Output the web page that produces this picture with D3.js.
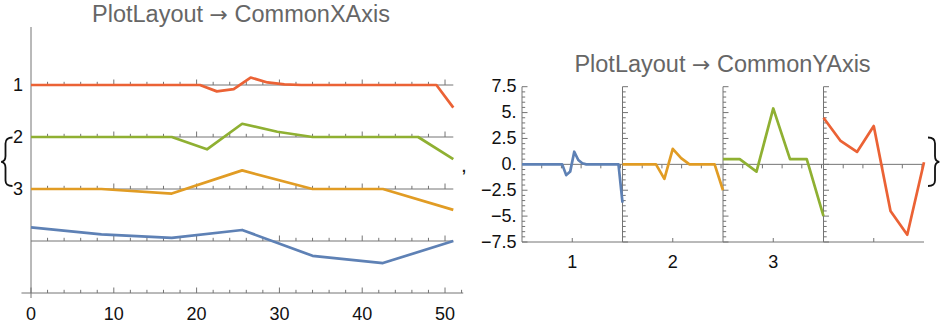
<!DOCTYPE html>
<html><head><meta charset="utf-8">
<script src="https://cdn.jsdelivr.net/npm/d3@7"></script>
<style>body{margin:0;background:#fff} text{font-family:"Liberation Sans",Arial,Helvetica,sans-serif}</style>
</head><body><svg id="c" width="941" height="325"></svg>
<script>
// ---- data ----
const series1 = [0,0,0,0,0,0,0,0,0,0,0,-1.04,-0.68,1.22,0.42,0.1,0,0,0,0,0,0,0,0,0,-3.7];
const series2 = [0,0,0,0,0,-1.4,1.5,0.6,0,0,0,0,-2.5];
const series3 = [0.5,0.5,-0.7,5.4,0.5,0.5,-5.0];
const series4 = [4.5,2.3,1.2,3.7,-4.5,-6.8,0.2];
const allSeries = [series1, series2, series3, series4];
const colors = ["#5E81B5","#E19C24","#8FB032","#EB6235"];
const xExtent = 51;
const titleParts = [["PlotLayout","\u2192","CommonXAxis"],["PlotLayout","\u2192","CommonYAxis"]];
const leftRowLabels = ["1","2","3",""];
const leftXTicks = [0,10,20,30,40,50];
const leftOrigins = [0,0,0.5,0.2];
const leftSpans = [8.5,5.9,13.7,16.5];
const rightYTicks = [7.5,5,2.5,0,-2.5,-5,-7.5];
const rightYTickLabels = ["7.5","5.","2.5","0.","\u22122.5","\u22125.","\u22127.5"];
const rightXLabels = ["1","2","3",""];
const rightZeroTicks = [10,20,30,40,50];

const svg = d3.select("#c");
const axisColor = "#747474";
const lw = 2.7;
svg.append("rect").attr("width",941).attr("height",325).attr("fill","#fff");

function title(g, cx, y, parts) {
  const t = g.append("text").attr("x",cx).attr("y",y).attr("text-anchor","middle")
    .attr("font-size",23.5).attr("fill","#666");
  t.append("tspan").text(parts[0] + " ");
  t.append("tspan").attr("font-family","DejaVu Sans").attr("font-size",22).text(parts[1]);
  t.append("tspan").text(" " + parts[2]);
}

// ---------- LEFT: CommonXAxis ----------
const xL = d3.scaleLinear().domain([0, xExtent]).range([31, 453.3]);
const rowY = d3.scaleLinear().domain([0, 4]).range([85, 293]);
const gL = svg.append("g");
title(gL, 241, 21.5, titleParts[0]);

gL.append("line").attr("x1",xL(0)).attr("x2",xL(0)).attr("y1",27).attr("y2",298)
  .attr("stroke",axisColor).attr("stroke-width",1);

for (let r = 0; r < 4; r++) {
  const y0 = rowY(r);
  gL.append("line").attr("x1",xL(0)).attr("x2",xL(xExtent)).attr("y1",y0).attr("y2",y0)
    .attr("stroke",axisColor).attr("stroke-width",1);
  d3.range(2, xExtent, 2).forEach(t => {
    const len = t % 10 === 0 ? 5.5 : 3.2;
    gL.append("line").attr("x1",xL(t)).attr("x2",xL(t)).attr("y1",y0).attr("y2",y0-len)
      .attr("stroke",axisColor).attr("stroke-width",1);
  });
  if (leftRowLabels[r]) {
    gL.append("text").attr("x",23).attr("y",y0+1.5).attr("text-anchor","end")
      .attr("dominant-baseline","middle").attr("font-size",18).attr("fill","#111")
      .text(leftRowLabels[r]);
  }
}
const yb = rowY(4);
gL.append("line").attr("x1",xL(-1.15)).attr("x2",xL(52.2)).attr("y1",yb).attr("y2",yb)
  .attr("stroke",axisColor).attr("stroke-width",1);
d3.range(0, 53, 2).forEach(t => {
  const len = t % 10 === 0 ? 5.5 : 3.2;
  gL.append("line").attr("x1",xL(t)).attr("x2",xL(t)).attr("y1",yb).attr("y2",yb-len)
    .attr("stroke",axisColor).attr("stroke-width",1);
});
leftXTicks.forEach(t => {
  gL.append("text").attr("x",xL(t)).attr("y",320).attr("text-anchor","middle")
    .attr("font-size",18).attr("fill","#111").text(t);
});

allSeries.forEach((s, r) => {
  const y0 = rowY(r);
  const o = leftOrigins[r], sp = leftSpans[r];
  const yr = d3.scaleLinear().domain([o - sp/2, o + sp/2]).range([y0 + 26, y0 - 26]);
  const n = s.length;
  const line = d3.line().x((d,i) => xL(i * xExtent / (n-1))).y(d => yr(d));
  gL.append("path").datum(s).attr("d", line).attr("fill","none")
    .attr("stroke", colors[3 - r]).attr("stroke-width", lw).attr("stroke-linejoin","round");
});

// ---------- RIGHT: CommonYAxis ----------
const gR = svg.append("g");
title(gR, 722.5, 72, titleParts[1]);

const panel = d3.scaleBand().domain([0,1,2,3]).range([522, 924]);
const bw = panel.bandwidth();
const yR = d3.scaleLinear().domain([-7.5, 7.5]).range([242, 86.7]);

[0,1,2,3].forEach(k => {
  const x0 = panel(k);
  gR.append("line").attr("x1",x0).attr("x2",x0).attr("y1",yR(7.5)).attr("y2",yR(-7.5))
    .attr("stroke",axisColor).attr("stroke-width",1);
  d3.range(-7.5, 7.51, 0.5).forEach(t => {
    const major = Math.abs((t / 2.5) - Math.round(t / 2.5)) < 1e-6;
    const len = major ? 5.5 : 3.2;
    gR.append("line").attr("x1",x0).attr("x2",x0+len).attr("y1",yR(t)).attr("y2",yR(t))
      .attr("stroke",axisColor).attr("stroke-width",1);
  });
});
rightYTicks.forEach((t, i) => {
  gR.append("text").attr("x",516.5).attr("y",yR(t)+1).attr("text-anchor","end")
    .attr("dominant-baseline","middle").attr("font-size",18).attr("fill","#111")
    .text(rightYTickLabels[i]);
});
gR.append("line").attr("x1",panel(0)).attr("x2",panel(3)+bw).attr("y1",yR(0)).attr("y2",yR(0))
  .attr("stroke",axisColor).attr("stroke-width",1);
gR.append("line").attr("x1",panel(0)).attr("x2",panel(3)+bw).attr("y1",yR(-7.5)).attr("y2",yR(-7.5))
  .attr("stroke",axisColor).attr("stroke-width",1);

allSeries.forEach((s, k) => {
  const xp = d3.scaleLinear().domain([0, xExtent]).range([panel(k), panel(k) + bw]);
  rightZeroTicks.forEach(t => {
    gR.append("line").attr("x1",xp(t)).attr("x2",xp(t)).attr("y1",yR(0)).attr("y2",yR(0)+4)
      .attr("stroke",axisColor).attr("stroke-width",1);
  });
  const xc = xp(xExtent/2);
  gR.append("line").attr("x1",xc).attr("x2",xc).attr("y1",yR(-7.5)).attr("y2",yR(-7.5)-4)
    .attr("stroke",axisColor).attr("stroke-width",1);
  if (rightXLabels[k]) {
    gR.append("text").attr("x",xc).attr("y",268.3).attr("text-anchor","middle")
      .attr("font-size",18).attr("fill","#111").text(rightXLabels[k]);
  }
  const n = s.length;
  const line = d3.line().x((d,i) => xp(i * xExtent / (n-1))).y(d => yR(d));
  gR.append("path").datum(s).attr("d", line).attr("fill","none")
    .attr("stroke", colors[k]).attr("stroke-width", lw).attr("stroke-linejoin","round");
});

// ---------- list braces & comma ----------
svg.append("path")
  .attr("d","M12.5,137.5 C8,137.5 5.5,139.5 5.5,143.5 L5.5,156 C5.5,159.6 4,161.4 1.2,161.8 C4,162.2 5.5,164 5.5,167.6 L5.5,180.5 C5.5,184.5 8,186 12.5,186")
  .attr("fill","none").attr("stroke","#111").attr("stroke-width",1.8);
svg.append("path")
  .attr("d","M928,137.5 C932.5,137.5 935,139.5 935,143.5 L935,156 C935,159.6 936.5,161.4 939.3,161.8 C936.5,162.2 935,164 935,167.6 L935,180.5 C935,184.5 932.5,186 928,186")
  .attr("fill","none").attr("stroke","#111").attr("stroke-width",1.8);
svg.append("text").attr("x",461).attr("y",172).attr("font-size",21).attr("fill","#111").text(",");
</script></body></html>
